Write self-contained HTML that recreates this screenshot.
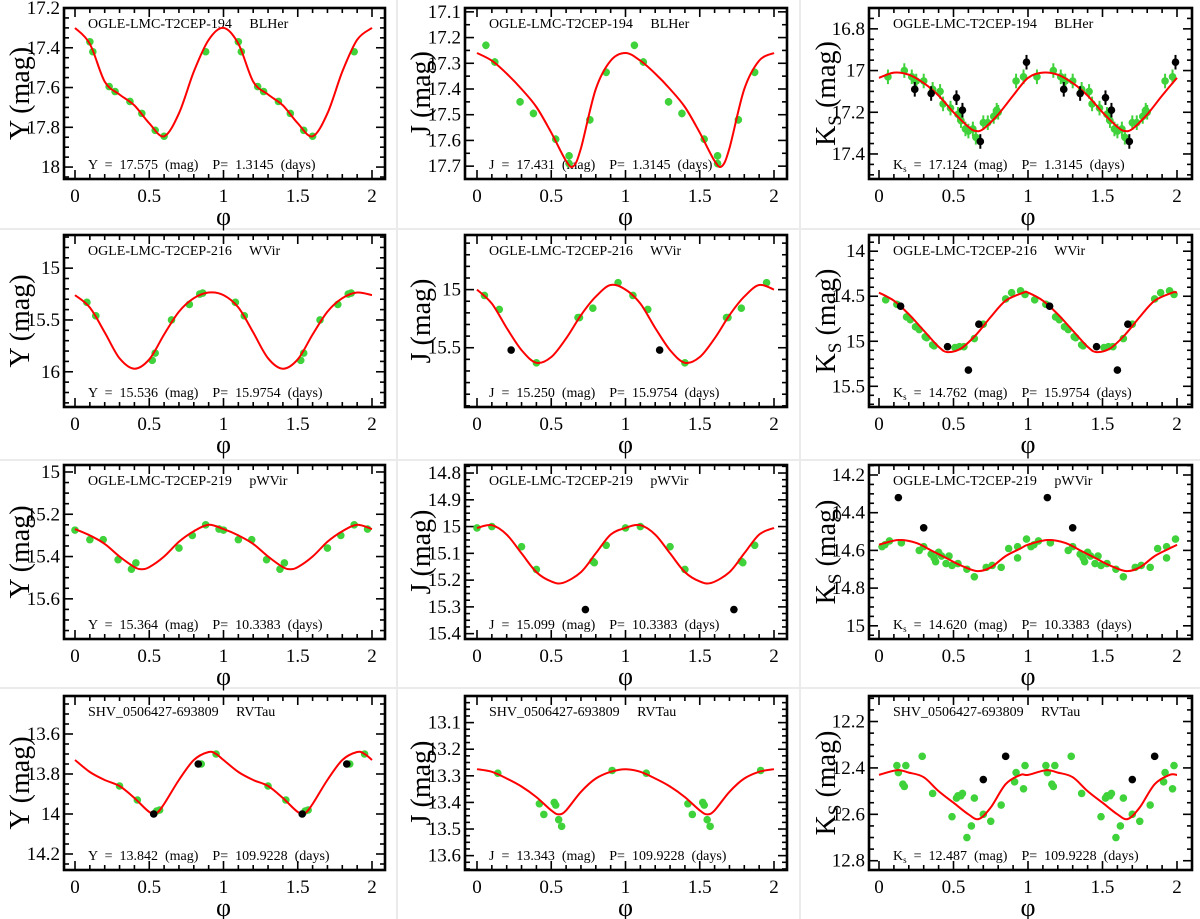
<!DOCTYPE html>
<html><head><meta charset="utf-8"><style>
html,body{margin:0;padding:0;background:#fff;}
svg{display:block;font-family:"Liberation Serif",serif;}
</style></head><body>
<svg id="fig" width="1200" height="919" viewBox="0 0 1200 919" xmlns="http://www.w3.org/2000/svg"></svg>
<script>
// ---------- data ----------
// Row 1: OGLE-LMC-T2CEP-194 BLHer
const p1CurvePh=[0,0.1,0.2,0.3,0.4,0.5,0.6,0.7,0.8,0.9];
const p1CurveMag=[17.30,17.38,17.57,17.635,17.69,17.78,17.845,17.73,17.52,17.36];
const p1Ph=[0.10,0.12,0.23,0.27,0.37,0.45,0.54,0.60,0.88];
const p1Mag=[17.37,17.42,17.595,17.62,17.67,17.73,17.815,17.845,17.42];

const p2CurvePh=[0,0.1,0.2,0.3,0.4,0.5,0.6,0.65,0.7,0.8,0.9];
const p2CurveMag=[17.26,17.29,17.34,17.40,17.47,17.57,17.68,17.70,17.63,17.40,17.29];
const p2Ph=[0.06,0.12,0.29,0.38,0.53,0.62,0.62,0.76,0.87];
const p2Mag=[17.23,17.295,17.45,17.495,17.595,17.66,17.69,17.52,17.335];

const p3CurvePh=[0,0.1,0.2,0.3,0.4,0.5,0.6,0.65,0.7,0.8,0.9];
const p3CurveMag=[17.035,17.01,17.02,17.06,17.12,17.20,17.27,17.29,17.28,17.21,17.12];
const p3Ph=[0.06,0.17,0.22,0.25,0.30,0.36,0.41,0.43,0.48,0.53,0.55,0.58,0.60,0.63,0.65,0.70,0.73,0.77,0.79,0.80,0.92,0.97];
const p3Mag=[17.03,17.0,17.03,17.05,17.05,17.09,17.1,17.16,17.18,17.21,17.24,17.28,17.29,17.28,17.32,17.25,17.25,17.22,17.19,17.2,17.05,17.03];
const p3BPh=[0.24,0.35,0.52,0.56,0.68,0.99];
const p3BMag=[17.09,17.11,17.13,17.19,17.34,16.96];

// Row 2: OGLE-LMC-T2CEP-216 WVir
const p4CurvePh=[0,0.1,0.2,0.3,0.4,0.5,0.6,0.7,0.8,0.9];
const p4CurveMag=[15.26,15.38,15.62,15.87,15.97,15.88,15.64,15.42,15.29,15.235];
const p4Ph=[0.08,0.14,0.52,0.54,0.65,0.77,0.84,0.86];
const p4Mag=[15.33,15.46,15.89,15.82,15.5,15.35,15.25,15.24];

const p5CurvePh=[0,0.1,0.2,0.3,0.4,0.5,0.6,0.7,0.8,0.9];
const p5CurveMag=[15.0,15.12,15.33,15.52,15.63,15.58,15.42,15.22,15.06,14.96];
const p5Ph=[0.05,0.15,0.40,0.68,0.69,0.78,0.95];
const p5Mag=[15.05,15.17,15.63,15.24,15.24,15.16,14.94];
const p5BPh=[0.23];
const p5BMag=[15.52];

const p6CurvePh=[0,0.1,0.2,0.3,0.4,0.46,0.55,0.65,0.75,0.85,0.97];
const p6CurveMag=[14.46,14.55,14.70,14.88,15.06,15.12,15.08,14.93,14.73,14.55,14.46];
const p6Ph=[0.045,0.12,0.185,0.21,0.245,0.27,0.31,0.32,0.36,0.37,0.51,0.54,0.57,0.64,0.70,0.85,0.89,0.95,0.98];
const p6Mag=[14.54,14.59,14.73,14.76,14.84,14.87,14.95,14.96,15.04,15.05,15.07,15.06,15.06,14.97,14.81,14.53,14.46,14.44,14.48];
const p6BPh=[0.145,0.46,0.60,0.67];
const p6BMag=[14.61,15.06,15.32,14.81];

// Row 3: OGLE-LMC-T2CEP-219 pWVir
const p7CurvePh=[0,0.1,0.2,0.3,0.4,0.45,0.5,0.6,0.7,0.8,0.9];
const p7CurveMag=[15.27,15.30,15.34,15.40,15.45,15.46,15.45,15.40,15.33,15.28,15.25];
const p7Ph=[0.0,0.10,0.19,0.29,0.38,0.41,0.70,0.79,0.88,0.97];
const p7Mag=[15.275,15.32,15.32,15.415,15.46,15.43,15.36,15.30,15.25,15.27];

const p8CurvePh=[0,0.1,0.2,0.3,0.4,0.5,0.58,0.7,0.8,0.9];
const p8CurveMag=[15.005,14.995,15.03,15.10,15.17,15.205,15.21,15.17,15.10,15.03];
const p8Ph=[0.0,0.10,0.30,0.40,0.78,0.79,0.87];
const p8Mag=[15.005,15.0,15.075,15.16,15.13,15.135,15.07];
const p8BPh=[0.73];
const p8BMag=[15.31];

const p9CurvePh=[0,0.13,0.25,0.35,0.45,0.55,0.66,0.75,0.85,0.95];
const p9CurveMag=[14.57,14.545,14.56,14.6,14.64,14.68,14.71,14.69,14.63,14.59];
const p9Ph=[0.02,0.04,0.07,0.15,0.27,0.30,0.35,0.37,0.38,0.40,0.42,0.45,0.47,0.49,0.53,0.59,0.64,0.72,0.76,0.82,0.87,0.93,0.93,0.99];
const p9Mag=[14.58,14.57,14.55,14.56,14.6,14.58,14.62,14.64,14.66,14.61,14.63,14.67,14.63,14.68,14.67,14.7,14.74,14.69,14.68,14.69,14.59,14.58,14.64,14.54];
const p9BPh=[0.13,0.30];
const p9BMag=[14.32,14.48];

// Row 4: SHV_0506427-693809 RVTau
const p10CurvePh=[0,0.1,0.2,0.3,0.4,0.5,0.55,0.6,0.7,0.8,0.9,0.95];
const p10CurveMag=[13.73,13.79,13.83,13.86,13.92,13.99,13.995,13.95,13.83,13.73,13.69,13.70];
const p10Ph=[0.30,0.42,0.55,0.57,0.85,0.95];
const p10Mag=[13.86,13.93,13.985,13.98,13.75,13.70];
const p10BPh=[0.53,0.83];
const p10BMag=[14.0,13.75];

const p11CurvePh=[0,0.1,0.2,0.3,0.4,0.5,0.55,0.6,0.7,0.8,0.9];
const p11CurveMag=[13.275,13.285,13.31,13.34,13.38,13.43,13.445,13.43,13.36,13.31,13.285];
const p11Ph=[0.14,0.42,0.45,0.52,0.53,0.55,0.57,0.91];
const p11Mag=[13.29,13.405,13.445,13.40,13.41,13.465,13.49,13.28];

const p12CurvePh=[0,0.12,0.2,0.3,0.4,0.5,0.6,0.67,0.75,0.85,0.95];
const p12CurveMag=[12.43,12.41,12.42,12.44,12.50,12.55,12.60,12.62,12.57,12.47,12.43];
const p12Ph=[0.12,0.13,0.16,0.17,0.18,0.29,0.36,0.49,0.52,0.53,0.55,0.56,0.59,0.62,0.64,0.70,0.75,0.82,0.91,0.92,0.97,0.98];
const p12Mag=[12.39,12.42,12.47,12.48,12.39,12.35,12.51,12.61,12.53,12.52,12.52,12.51,12.70,12.65,12.53,12.60,12.63,12.56,12.46,12.42,12.49,12.39];
const p12BPh=[0.70,0.85];
const p12BMag=[12.45,12.35];

const xTickLabels=["0","0.5","1","1.5","2"];
const xTickVals=[0,0.5,1,1.5,2];

// ---------- layout ----------
const NS="http://www.w3.org/2000/svg";
const svg=document.getElementById('fig');
const cols=[{l:64,r:385,x0:75,x2:372,lab:20},{l:465,r:787,x0:477,x2:774,lab:421},{l:869,r:1192,x0:879,x2:1177,lab:826}];
const rows=[{t:8,b:179},{t:235,b:407},{t:465,b:639},{t:696,b:870}];
const ytitles=["Y","J","K"];

function el(tag,attrs,parent){const e=document.createElementNS(NS,tag);for(const k in attrs)e.setAttribute(k,attrs[k]);(parent||svg).appendChild(e);return e;}

[397,800].forEach(x=>{const l=el('line',{x1:x,y1:0,x2:x,y2:919,stroke:'#ebebeb','stroke-width':2});

});
[229,460,688].forEach(y=>{const l=el('line',{x1:0,y1:y,x2:1200,y2:y,stroke:'#ebebeb','stroke-width':2});

});

const panels=[
 {r:0,c:0,d:[17.2,18.06],ticks:[17.2,17.4,17.6,17.8,18],minor:0.05,cp:p1CurvePh,cm:p1CurveMag,ph:p1Ph,mg:p1Mag,err:0,title:"OGLE-LMC-T2CEP-194     BLHer",info:["Y","17.575","1.3145"]},
 {r:0,c:1,d:[17.085,17.75],ticks:[17.1,17.2,17.3,17.4,17.5,17.6,17.7],minor:0.05,cp:p2CurvePh,cm:p2CurveMag,ph:p2Ph,mg:p2Mag,err:0.015,title:"OGLE-LMC-T2CEP-194     BLHer",info:["J","17.431","1.3145"]},
 {r:0,c:2,d:[16.70,17.52],ticks:[16.8,17,17.2,17.4],minor:0.05,cp:p3CurvePh,cm:p3CurveMag,ph:p3Ph,mg:p3Mag,bph:p3BPh,bmg:p3BMag,err:0.035,title:"OGLE-LMC-T2CEP-194     BLHer",info:["K","17.124","1.3145"]},
 {r:1,c:0,d:[14.68,16.34],ticks:[15,15.5,16],minor:0.1,cp:p4CurvePh,cm:p4CurveMag,ph:p4Ph,mg:p4Mag,err:0,title:"OGLE-LMC-T2CEP-216     WVir",info:["Y","15.536","15.9754"]},
 {r:1,c:1,d:[14.53,16.01],ticks:[15,15.5],minor:0.1,cp:p5CurvePh,cm:p5CurveMag,ph:p5Ph,mg:p5Mag,bph:p5BPh,bmg:p5BMag,err:0,title:"OGLE-LMC-T2CEP-216     WVir",info:["J","15.250","15.9754"]},
 {r:1,c:2,d:[13.82,15.73],ticks:[14,14.5,15,15.5],minor:0.1,cp:p6CurvePh,cm:p6CurveMag,ph:p6Ph,mg:p6Mag,bph:p6BPh,bmg:p6BMag,err:0,title:"OGLE-LMC-T2CEP-216     WVir",info:["K","14.762","15.9754"]},
 {r:2,c:0,d:[14.967,15.79],ticks:[15,15.2,15.4,15.6],minor:0.05,cp:p7CurvePh,cm:p7CurveMag,ph:p7Ph,mg:p7Mag,err:0,title:"OGLE-LMC-T2CEP-219     pWVir",info:["Y","15.364","10.3383"]},
 {r:2,c:1,d:[14.77,15.42],ticks:[14.8,14.9,15,15.1,15.2,15.3,15.4],minor:0.025,cp:p8CurvePh,cm:p8CurveMag,ph:p8Ph,mg:p8Mag,bph:p8BPh,bmg:p8BMag,err:0,title:"OGLE-LMC-T2CEP-219     pWVir",info:["J","15.099","10.3383"]},
 {r:2,c:2,d:[14.147,15.07],ticks:[14.2,14.4,14.6,14.8,15],minor:0.05,cp:p9CurvePh,cm:p9CurveMag,ph:p9Ph,mg:p9Mag,bph:p9BPh,bmg:p9BMag,err:0,title:"OGLE-LMC-T2CEP-219     pWVir",info:["K","14.620","10.3383"]},
 {r:3,c:0,d:[13.41,14.28],ticks:[13.6,13.8,14,14.2],minor:0.05,cp:p10CurvePh,cm:p10CurveMag,ph:p10Ph,mg:p10Mag,bph:p10BPh,bmg:p10BMag,err:0,title:"SHV_0506427-693809     RVTau",info:["Y","13.842","109.9228"]},
 {r:3,c:1,d:[13.0,13.654],ticks:[13.1,13.2,13.3,13.4,13.5,13.6],minor:0.025,cp:p11CurvePh,cm:p11CurveMag,ph:p11Ph,mg:p11Mag,err:0,title:"SHV_0506427-693809     RVTau",info:["J","13.343","109.9228"]},
 {r:3,c:2,d:[12.09,12.84],ticks:[12.2,12.4,12.6,12.8],minor:0.05,cp:p12CurvePh,cm:p12CurveMag,ph:p12Ph,mg:p12Mag,bph:p12BPh,bmg:p12BMag,err:0,title:"SHV_0506427-693809     RVTau",info:["K","12.487","109.9228"]}
];

function catmull(pts){let d="M"+pts[0][0].toFixed(1)+","+pts[0][1].toFixed(1);
 for(let i=0;i<pts.length-1;i++){const p0=pts[Math.max(0,i-1)],p1=pts[i],p2=pts[i+1],p3=pts[Math.min(pts.length-1,i+2)];
  const c1=[p1[0]+(p2[0]-p0[0])/6,p1[1]+(p2[1]-p0[1])/6],c2=[p2[0]-(p3[0]-p1[0])/6,p2[1]-(p3[1]-p1[1])/6];
  d+=" C"+c1[0].toFixed(1)+","+c1[1].toFixed(1)+" "+c2[0].toFixed(1)+","+c2[1].toFixed(1)+" "+p2[0].toFixed(1)+","+p2[1].toFixed(1);}
 return d;}

panels.forEach((p,idx)=>{
 const C=cols[p.c],R=rows[p.r];
 const g=el('g',{});
 
 
 const X=v=>C.x0+(C.x2-C.x0)*v/2;
 const Y=v=>R.t+(R.b-R.t)*(v-p.d[0])/(p.d[1]-p.d[0]);
 const tg=el('g',{stroke:'#000','stroke-width':1.6},g);
 
 
 for(let k=0;k<=20;k++){const v=k/10,x=X(v),len=(k%5==0)?9:5;
  el('line',{x1:x,y1:R.b,x2:x,y2:R.b-len},tg);el('line',{x1:x,y1:R.t,x2:x,y2:R.t+len},tg);}
 const start=Math.ceil((p.d[0]-1e-9)/p.minor)*p.minor;
 for(let v=start;v<=p.d[1]+1e-9;v+=p.minor){const y=Y(v);
  const maj=p.ticks.some(t=>Math.abs(t-v)<1e-6);const len=maj?9:5;
  el('line',{x1:C.l,y1:y,x2:C.l+len,y2:y},tg);el('line',{x1:C.r,y1:y,x2:C.r-len,y2:y},tg);}
 const box=el('rect',{x:C.l,y:R.t,width:C.r-C.l,height:R.b-R.t,fill:'none',stroke:'#000','stroke-width':2.6},g);
 
 
 xTickVals.forEach((v,i)=>{const t=el('text',{x:X(v),y:R.b+23,'font-size':19,'text-anchor':'middle'},g);t.textContent=xTickLabels[i];
  
  });
 p.ticks.forEach(v=>{const t=el('text',{x:C.l-4,y:Y(v)+6,'font-size':19,'text-anchor':'end'},g);t.textContent=String(v);
  
  });
 const xt=el('text',{x:(C.x0+C.x2)/2,y:R.b+46,'font-size':26,'text-anchor':'middle'},g);xt.textContent="φ";
 
 
 const cy=(R.t+R.b)/2;
 const yt=el('text',{x:C.lab,y:cy,'font-size':28,'text-anchor':'middle',transform:`rotate(-90 ${C.lab} ${cy})`,dy:9},g);
 
 
 const band=ytitles[p.c];
 if(band==="K"){yt.innerHTML='K<tspan font-size="19" dy="6">S</tspan><tspan dy="-6"> (mag)</tspan>';}
 else yt.textContent=band+" (mag)";
 const tt=el('text',{x:C.l+24,y:R.t+20,'font-size':14},g);
 
 
 tt.style.whiteSpace='pre';tt.textContent=p.title;
 const it=el('text',{x:C.l+24,y:R.b-10,'font-size':14},g);
 
 
 it.style.whiteSpace='pre';
 if(p.info[0]==="K") it.innerHTML='K<tspan font-size="9" dy="3">s</tspan><tspan dy="-3">  =  '+p.info[1]+'  (mag)    P=  '+p.info[2]+'  (days)</tspan>';
 else it.textContent=p.info[0]+'  =  '+p.info[1]+'  (mag)    P=  '+p.info[2]+'  (days)';
 const pts=[];for(let cyc=0;cyc<2;cyc++)p.cp.forEach((ph,i)=>pts.push([X(ph+cyc),Y(p.cm[i])]));
 pts.push([X(2),Y(p.cm[0])]);
 const drawPts=(phs,mgs,color,name)=>{for(let cyc=0;cyc<2;cyc++)phs.forEach((ph,i)=>{
   const x=X(ph+cyc),y=Y(mgs[i]);
   if(p.err>0){const e=el('line',{x1:x,y1:Y(mgs[i]-p.err),x2:x,y2:Y(mgs[i]+p.err),stroke:color,'stroke-width':2},g);
    
    }
   const c=el('circle',{cx:x,cy:y,r:3.8,fill:color},g);
   
   });};
 drawPts(p.ph,p.mg,'#3fd23a','data-point');
 const cv=el('path',{d:catmull(pts),fill:'none',stroke:'#ff0000','stroke-width':2},g);
 
 
 if(p.bph)drawPts(p.bph,p.bmg,'#000','black-data-point');
});
</script>
</body></html>
